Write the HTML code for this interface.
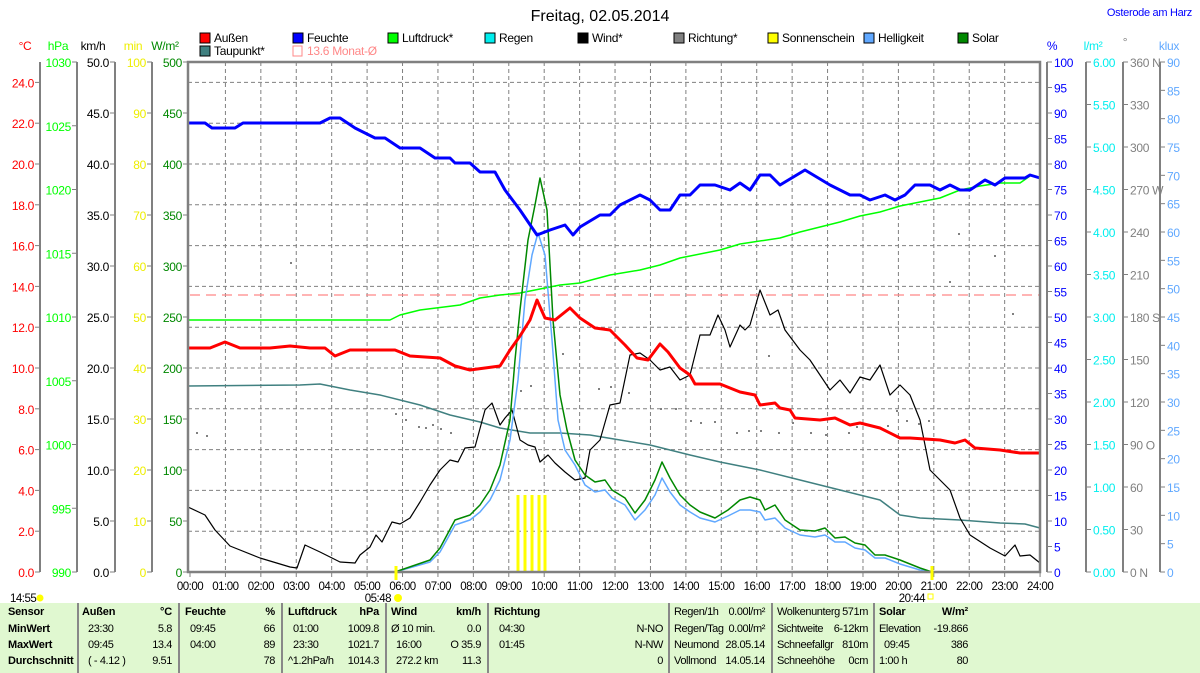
<!DOCTYPE html>
<html><head><meta charset="utf-8"><style>
body{margin:0;background:#fff;width:1200px;height:673px;overflow:hidden;font-family:"Liberation Sans",sans-serif}
svg{position:absolute;left:0;top:0}
#ft{position:absolute;left:0;top:603px;width:1200px;height:70px;background:#e0f8d0}
.c{position:absolute;font-size:11px;letter-spacing:-0.4px;color:#000;white-space:nowrap}
.b{font-weight:bold;letter-spacing:-0.2px}
.sep{position:absolute;top:0;width:2px;height:70px;background:#888}
</style></head><body>
<svg id="s" width="1200" height="673" font-family="Liberation Sans, sans-serif" font-size="12"></svg>
<div id="ft"></div>
<script>
const S=document.getElementById('s');let h='';
const X0=190,XW=35.42,Y0=572,YT=62;
const L=(x1,y1,x2,y2,c,w,d)=>h+=`<line x1="${x1}" y1="${y1}" x2="${x2}" y2="${y2}" stroke="${c}" stroke-width="${w||1}" ${d?`stroke-dasharray="${d}"`:''}/>`;
const T=(x,y,t,c,a,sz,ls)=>h+=`<text x="${x}" y="${y}" fill="${c}" text-anchor="${a||'start'}" font-size="${sz||12}" letter-spacing="${ls==null?-0.3:ls}">${t}</text>`;
for(let i=1;i<24;i++)L(X0+i*XW,YT,X0+i*XW,Y0,'#808080',1,'4 3');
for(let k=1;k<=12;k++)L(188,Y0-k*40.8,1040,Y0-k*40.8,'#808080',1,'4 3');
function axis(ax,vals,fmt,col){L(ax,YT,ax,Y0,'#808080',2);vals.forEach(([v,y])=>{L(ax-5,y,ax,y,'#808080',1);T(ax-6,y+5,fmt(v),col,'end');});}
let a=[];for(let v=0;v<=24;v+=2)a.push([v,Y0-v*20.4]);axis(40,a,v=>v.toFixed(1),'#f00');
a=[];for(let v=990;v<=1030;v+=5)a.push([v,Y0-(v-990)*12.75]);axis(77,a,v=>v,'#0f0');
a=[];for(let v=0;v<=50;v+=5)a.push([v,Y0-v*10.2]);axis(115,a,v=>v.toFixed(1),'#000');
a=[];for(let v=0;v<=100;v+=10)a.push([v,Y0-v*5.1]);axis(152,a,v=>v,'#ee0');
a=[];for(let v=0;v<=500;v+=50)a.push([v,Y0-v*1.02]);axis(188,a,v=>v,'#080');
function raxis(ax,vals,fmt,col){L(ax,YT,ax,Y0,'#808080',2);vals.forEach(([v,y])=>{L(ax,y,ax+5,y,'#808080',1);T(ax+7,y+5,fmt(v),col);});}
a=[];for(let v=0;v<=100;v+=5)a.push([v,Y0-v*5.1]);raxis(1047,a,v=>v,'#00f');
a=[];for(let v=0;v<=6.001;v+=0.5)a.push([v,Y0-v*85]);raxis(1086,a,v=>v.toFixed(2),'#0ee');
const dir={0:'0 N',90:'90 O',180:'180 S',270:'270 W',360:'360 N'};
a=[];for(let v=0;v<=360;v+=30)a.push([v,Y0-v*510/360]);raxis(1123,a,v=>dir[v]||v,'#808080');
a=[];for(let v=0;v<=90;v+=5)a.push([v,Y0-v*510/90]);raxis(1160,a,v=>v,'#60a8ff');
T(25,50,'°C','#f00','middle');T(58,50,'hPa','#0f0','middle');T(93,50,'km/h','#000','middle');T(133,50,'min','#ee0','middle');T(165,50,'W/m²','#080','middle');
T(1052,50,'%','#00f','middle');T(1093,50,'l/m²','#0ee','middle');T(1125,46,'°','#808080','middle');T(1169,50,'klux','#60a8ff','middle');
T(600,21,'Freitag, 02.05.2014','#000','middle',16,0);T(1192,16,'Osterode am Harz','#00f','end',11);
const lg=[[200,'#f00','Außen'],[293,'#00f','Feuchte'],[388,'#0f0','Luftdruck*'],[485,'#0ee','Regen'],[578,'#000','Wind*'],[674,'#808080','Richtung*'],[768,'#ff0','Sonnenschein'],[864,'#60a8ff','Helligkeit'],[958,'#080','Solar']];
lg.forEach(([x,c,t])=>{h+=`<rect x="${x}" y="33" width="10" height="10" fill="${c}" stroke="#000"/>`;T(x+14,42,t,'#000');});
h+=`<rect x="200" y="46" width="10" height="10" fill="#408080" stroke="#000"/>`;T(214,55,'Taupunkt*','#000');
h+=`<rect x="293" y="46" width="9" height="10" fill="none" stroke="#f88"/>`;T(307,55,'13.6 Monat-Ø','#f88');
L(190,295,1040,295,'#f88',1.2,'10 6');
[518,525,532,539,545].forEach(x=>L(x,495,x,572,'#ff0',3));
[[196,432],[206,435],[395,413],[405,419],[418,426],[425,427],[440,428],[450,432],[432,424],[290,262],[520,390],[530,385],[562,353],[598,388],[610,386],[628,392],[660,408],[675,408],[690,420],[700,422],[714,421],[736,432],[748,430],[760,430],[768,355],[778,432],[792,422],[810,432],[825,434],[848,432],[856,426],[887,425],[896,410],[906,420],[918,423],[928,420],[958,233],[949,281],[994,255],[1012,313]].forEach(([x,y])=>h+=`<rect x="${x}" y="${y}" width="2" height="2" fill="#808080"/>`);
const P=(pts,c,w)=>h+=`<polyline fill="none" stroke="${c}" stroke-width="${w}" stroke-linejoin="round" points="${pts}"/>`;
P('188,386 300,385 320,384 350,390 380,395 420,405 450,415 480,422 500,428 530,433 560,433 590,435 620,440 650,445 690,455 720,462 760,470 800,480 840,490 880,500 900,515 920,518 960,520 1000,523 1025,524 1040,528','#408080',1.5);
P('188,320 390,320 400,315 420,310 460,305 480,298 500,295 520,293 560,285 580,283 610,275 640,270 660,265 680,258 720,250 740,244 780,238 800,232 840,222 860,216 880,212 900,206 920,202 940,198 960,190 980,186 1000,183 1020,183 1030,176','#0f0',1.5);
P('188,507 205,515 215,530 230,546 260,558 290,567 297,568 305,545 320,552 340,562 355,563 360,555 370,547 376,535 382,542 392,522 400,524 410,518 420,502 430,485 440,470 450,460 458,462 465,448 475,447 485,410 492,403 500,425 505,418 512,410 520,440 528,445 535,447 540,462 548,455 555,463 565,472 575,480 585,478 590,450 600,440 610,405 620,403 630,355 640,353 650,360 660,370 670,367 680,380 690,375 700,335 710,335 718,315 725,330 730,347 740,325 745,330 750,325 760,290 770,315 778,310 785,330 800,350 810,360 820,375 830,390 840,380 850,393 860,377 870,380 880,365 890,395 900,385 910,395 920,420 930,470 940,480 950,490 960,518 970,535 990,548 1005,556 1015,545 1020,556 1030,555 1040,563','#000',1.2);
P('395,572 430,562 440,552 455,525 470,520 480,512 490,500 500,480 510,440 518,380 525,300 532,255 538,233 545,255 552,340 558,420 565,450 575,465 585,485 595,492 605,490 612,498 625,505 635,520 645,510 655,495 662,478 670,492 680,505 690,512 700,518 715,522 728,516 740,510 750,510 760,512 765,520 775,518 785,528 800,535 815,537 825,535 835,542 845,542 855,548 865,550 875,558 885,558 900,564 920,570 932,572','#60a8ff',1.5);
P('395,572 430,560 440,548 455,520 470,515 480,505 490,490 500,465 510,420 515,360 520,310 528,240 535,205 540,178 547,210 553,320 560,395 567,430 575,460 585,475 595,482 605,480 612,490 625,498 635,513 645,500 655,480 662,462 670,478 680,495 690,505 700,512 715,518 728,510 740,500 750,497 760,500 765,510 775,505 785,520 800,530 815,531 825,528 835,538 845,537 855,543 865,545 875,555 885,555 900,560 920,568 932,572','#080',1.5);
P('188,348 210,348 225,342 240,348 270,348 290,346 310,348 325,348 335,356 350,350 370,350 395,350 410,356 440,358 455,366 470,370 500,366 510,350 520,336 530,320 537,300 545,318 555,320 570,308 580,318 595,328 610,330 625,345 637,358 648,360 660,344 668,352 680,368 690,375 695,384 720,384 740,392 755,395 760,405 775,403 780,408 790,410 795,418 820,420 835,418 850,425 860,423 880,428 900,438 910,438 940,440 955,443 965,440 975,448 1000,450 1020,453 1040,453','#f00',3);
P('188,123 205,123 212,128 235,128 243,123 320,123 330,118 340,118 355,128 375,138 385,138 400,148 420,148 435,158 450,158 455,163 470,163 480,172 495,172 505,190 520,210 537,235 550,230 565,225 573,235 580,227 600,215 610,215 620,205 640,195 650,200 660,210 670,210 680,195 690,195 700,185 715,185 730,190 740,183 750,190 760,175 770,175 780,185 805,170 830,185 850,195 860,195 870,200 885,195 895,200 905,195 915,185 930,185 940,190 950,185 960,190 970,190 985,180 995,185 1005,178 1025,178 1030,175 1040,178','#00f',3);
h+=`<rect x="188" y="62" width="852" height="510" fill="none" stroke="#808080" stroke-width="2.5"/>`;
for(let i=0;i<=24;i++){L(X0+i*XW,572,X0+i*XW,577,'#808080',1);T(X0+i*XW,590,(i<10?'0':'')+i+':00','#000','middle',11.5,-0.5);}
L(396,566,396,580,'#ff0',3);L(932,566,932,580,'#ff0',3);
T(391,602,'05:48','#000','end',11.5,-0.5);h+=`<circle cx="398" cy="598" r="4" fill="#ff0"/>`;
T(925,602,'20:44','#000','end',11.5,-0.5);h+=`<rect x="928" y="594" width="5" height="5" fill="none" stroke="#ff0"/>`;
T(10,602,'14:55','#000','start',11.5,-0.5);h+=`<circle cx="40" cy="598" r="3.5" fill="#ff0"/>`;
S.innerHTML=h;
const F=document.getElementById('ft');let f='';
[77,178,281,385,487,668,771,873].forEach(x=>f+=`<div class="sep" style="left:${x}px"></div>`);
const R=[14,31,47,63];
const cell=(x,r,t,al,bold)=>f+=`<div class="c${bold?' b':''}" style="${al=='r'?'right:'+(1200-x)+'px':'left:'+x+'px'};top:${R[r]-11}px">${t}</div>`;
['Sensor','MinWert','MaxWert','Durchschnitt'].forEach((t,r)=>cell(8,r,t,'l',1));
cell(82,0,'Außen','l',1);cell(172,0,'°C','r',1);cell(88,1,'23:30');cell(172,1,'5.8','r');cell(88,2,'09:45');cell(172,2,'13.4','r');cell(88,3,'( - 4.12 )');cell(172,3,'9.51','r');
cell(185,0,'Feuchte','l',1);cell(275,0,'%','r',1);cell(190,1,'09:45');cell(275,1,'66','r');cell(190,2,'04:00');cell(275,2,'89','r');cell(275,3,'78','r');
cell(288,0,'Luftdruck','l',1);cell(379,0,'hPa','r',1);cell(293,1,'01:00');cell(379,1,'1009.8','r');cell(293,2,'23:30');cell(379,2,'1021.7','r');cell(288,3,'^1.2hPa/h');cell(379,3,'1014.3','r');
cell(391,0,'Wind','l',1);cell(481,0,'km/h','r',1);cell(391,1,'Ø 10 min.');cell(481,1,'0.0','r');cell(396,2,'16:00');cell(481,2,'O 35.9','r');cell(396,3,'272.2 km');cell(481,3,'11.3','r');
cell(494,0,'Richtung','l',1);cell(499,1,'04:30');cell(663,1,'N-NO','r');cell(499,2,'01:45');cell(663,2,'N-NW','r');cell(663,3,'0','r');
cell(674,0,'Regen/1h');cell(765,0,'0.00l/m²','r');cell(674,1,'Regen/Tag');cell(765,1,'0.00l/m²','r');cell(674,2,'Neumond');cell(765,2,'28.05.14','r');cell(674,3,'Vollmond');cell(765,3,'14.05.14','r');
cell(777,0,'Wolkenunterg');cell(868,0,'571m','r');cell(777,1,'Sichtweite');cell(868,1,'6-12km','r');cell(777,2,'Schneefallgr');cell(868,2,'810m','r');cell(777,3,'Schneehöhe');cell(868,3,'0cm','r');
cell(879,0,'Solar','l',1);cell(968,0,'W/m²','r',1);cell(879,1,'Elevation');cell(968,1,'-19.866','r');cell(884,2,'09:45');cell(968,2,'386','r');cell(879,3,'1:00 h');cell(968,3,'80','r');
F.innerHTML=f;
</script>
</body></html>
